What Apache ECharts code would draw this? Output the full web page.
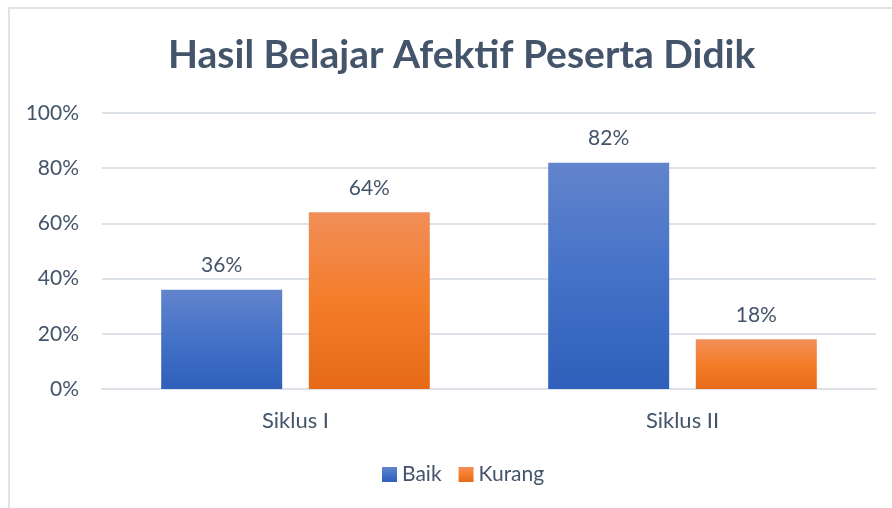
<!DOCTYPE html>
<html>
<head>
<meta charset="utf-8">
<script src="https://cdn.jsdelivr.net/npm/echarts@6/dist/echarts.min.js"></script>
<style>
  html, body { margin: 0; padding: 0; background: #ffffff; }
  .frame {
    position: absolute;
    left: 8px;
    top: 7px;
    width: 900px;
    height: 520px;
    border-left: 2px solid #dfe3e8;
    border-top: 2px solid #dfe3e8;
  }
  #chart { position: absolute; left: 0; top: 0; width: 892px; height: 508px; }
</style>
</head>
<body>
<div class="frame"></div>
<div id="chart"></div>
<script>
const categories = ['Siklus I', 'Siklus II']
const baik = [36, 82]
const kurang = [64, 18]
const yTicks = [0, 20, 40, 60, 80, 100]

const textColor = '#44546a'
const fontFamily = 'Lato, "Open Sans", sans-serif'

const mychart = echarts.init(document.getElementById('chart'))

const blueFill = new echarts.graphic.LinearGradient(0, 0, 0, 1, [
  { offset: 0, color: '#6284cc' },
  { offset: 0.5, color: '#4472c8' },
  { offset: 1, color: '#2f5fba' },
])
const orangeFill = new echarts.graphic.LinearGradient(0, 0, 0, 1, [
  { offset: 0, color: '#f18e58' },
  { offset: 0.5, color: '#f47d2a' },
  { offset: 1, color: '#e66a18' },
])

const labelStyle = {
  show: true,
  position: 'top',
  distance: 14,
  color: textColor,
  fontSize: 21,
  fontFamily: fontFamily,
  formatter: '{c}%',
}

mychart.setOption({
  backgroundColor: 'transparent',
  animation: false,
  title: {
    text: 'Hasil Belajar Afektif Peserta Didik',
    left: 163,
    top: 31,
    textStyle: {
      color: textColor,
      fontSize: 39,
      fontWeight: 'bold',
      fontFamily: fontFamily,
    },
  },
  legend: {
    bottom: 18,
    left: 377,
    itemWidth: 15,
    itemHeight: 15,
    itemGap: 17,
    icon: 'rect',
    textStyle: {
      color: textColor,
      fontSize: 21,
      fontFamily: fontFamily,
    },
    data: [
      { name: 'Baik', itemStyle: { color: blueFill } },
      { name: 'Kurang', itemStyle: { color: orangeFill } },
    ],
  },
  grid: {
    left: 102,
    right: 16,
    top: 113,
    bottom: 119,
  },
  xAxis: {
    type: 'category',
    data: categories,
    axisTick: { show: false },
    axisLine: {
      lineStyle: { color: '#dde2e8', width: 2 },
    },
    axisLabel: {
      color: textColor,
      fontSize: 22,
      fontFamily: fontFamily,
      margin: 21,
    },
  },
  yAxis: {
    type: 'value',
    min: yTicks[0],
    max: yTicks[yTicks.length - 1],
    interval: yTicks[1] - yTicks[0],
    axisTick: { show: false },
    axisLine: { show: false },
    axisLabel: {
      color: textColor,
      fontSize: 21,
      fontFamily: fontFamily,
      margin: 23,
      formatter: '{value}%',
    },
    splitLine: {
      lineStyle: { color: '#dde2e8', width: 2 },
    },
  },
  series: [
    {
      name: 'Baik',
      type: 'bar',
      barWidth: 121,
      barGap: '22%',
      itemStyle: { color: blueFill },
      label: labelStyle,
      data: baik,
    },
    {
      name: 'Kurang',
      type: 'bar',
      barWidth: 121,
      barGap: '22%',
      itemStyle: { color: orangeFill },
      label: labelStyle,
      data: kurang,
    },
  ],
})
</script>
</body>
</html>
